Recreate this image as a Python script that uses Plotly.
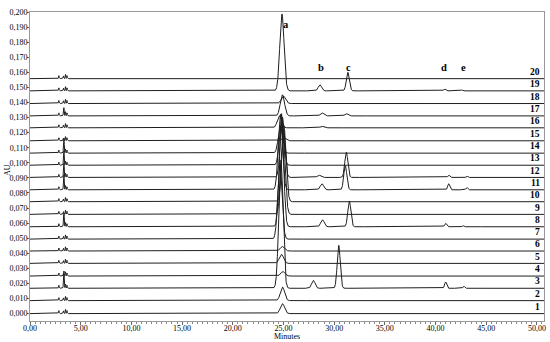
import numpy as np
import plotly.graph_objects as go

# ---------------- data ----------------
TRACE_LABELS = ["1", "2", "3", "4", "5", "6", "7", "8", "9", "10",
                "11", "12", "13", "14", "15", "16", "17", "18", "19", "20"]
# baseline (AU) of each stacked chromatogram
BASELINES = [0.0000, 0.0086, 0.0168, 0.0249, 0.0333, 0.0415, 0.0494, 0.0576, 0.0658, 0.0742,
             0.0821, 0.0903, 0.0984, 0.1064, 0.1146, 0.1232, 0.1311, 0.1393, 0.1477, 0.1558]

# peak a (main compound): retention time (min) and height above baseline (AU)
A_TIME = [24.90, 24.90, 24.75, 24.95, 24.80, 24.90, 24.65, 24.80, 24.95, 25.05,
          24.70, 24.90, 24.80, 24.70, 25.00, 24.60, 24.90, 25.00, 24.85, 24.90]
A_HEIGHT = [0.0066, 0.0090, 0.0850, 0.0030, 0.0060, 0.0030, 0.0500, 0.0750, 0.0550, 0.0500,
            0.0500, 0.0400, 0.0300, 0.0180, 0.0020, 0.0080, 0.0140, 0.0050, 0.0510, 0.0000]

# peak b
B_TIME = [28.6, 28.6, 27.95, 28.6, 28.6, 28.6, 28.6, 28.85, 28.6, 28.6,
          28.8, 28.5, 28.6, 28.6, 28.6, 28.8, 28.8, 28.6, 28.6, 28.6]
B_HEIGHT = [0.0, 0.0, 0.0052, 0.0, 0.0, 0.0, 0.0, 0.0046, 0.0, 0.0,
            0.0040, 0.0015, 0.0, 0.0, 0.0, 0.0010, 0.0020, 0.0, 0.0040, 0.0]

# peak c
C_TIME = [31.3, 31.3, 30.45, 31.3, 31.3, 31.3, 31.3, 31.50, 31.3, 31.3,
          31.10, 31.20, 31.3, 31.3, 31.3, 31.3, 31.20, 31.3, 31.35, 31.3]
C_HEIGHT = [0.0, 0.0, 0.0285, 0.0, 0.0, 0.0, 0.0, 0.0170, 0.0, 0.0,
            0.0160, 0.0167, 0.0, 0.0, 0.0, 0.0, 0.0015, 0.0, 0.0123, 0.0]

# peak d
D_TIME = [41.0, 41.0, 41.0, 41.0, 41.0, 41.0, 41.0, 41.0, 41.0, 41.0,
          41.3, 41.3, 41.0, 41.0, 41.0, 41.0, 41.0, 41.0, 40.9, 41.0]
D_HEIGHT = [0.0, 0.0, 0.0042, 0.0, 0.0, 0.0, 0.0, 0.0023, 0.0, 0.0,
            0.0040, 0.0015, 0.0, 0.0, 0.0, 0.0, 0.0, 0.0, 0.0012, 0.0]

# peak e
E_TIME = [42.8, 42.8, 42.8, 42.8, 42.8, 42.8, 42.8, 42.7, 42.8, 42.8,
          43.1, 43.1, 42.8, 42.8, 42.8, 42.8, 42.8, 42.8, 42.6, 42.8]
E_HEIGHT = [0.0, 0.0, 0.0014, 0.0, 0.0, 0.0, 0.0, 0.0008, 0.0, 0.0,
            0.0015, 0.0010, 0.0, 0.0, 0.0, 0.0, 0.0, 0.0, 0.0006, 0.0]

# solvent-front peaks present in every run (min, AU)
EARLY_TIME = [2.85, 3.30, 3.50, 3.65]
EARLY_HEIGHT = [0.0020, 0.0018, 0.0028, 0.0020]
# extra spike at 3.35 min in some runs
SPIKE_HEIGHT = [0.0, 0.0, 0.0110, 0.0, 0.0, 0.0, 0.0, 0.0085, 0.0, 0.0,
                0.0095, 0.0090, 0.0090, 0.0095, 0.0, 0.0, 0.0050, 0.0, 0.0, 0.0]

PEAK_LETTERS = ["a", "b", "c", "d", "e"]
LETTER_TIME = [25.25, 28.67, 31.40, 40.86, 42.80]
LETTER_AU = [0.1920, 0.1633, 0.1633, 0.1633, 0.1633]

X_TICKS = [0, 5, 10, 15, 20, 25, 30, 35, 40, 45, 50]
Y_TICKS = [round(0.01 * i, 2) for i in range(21)]

# ---------------- peak widths (gaussian sigma, min) ----------------
SIG_A, SIG_B, SIG_C, SIG_D, SIG_E, SIG_EARLY = 0.21, 0.17, 0.15, 0.10, 0.08, 0.03

t = np.arange(0, 50.7001, 0.01)


def g(center, height, sigma):
    return height * np.exp(-0.5 * ((t - center) / sigma) ** 2)


FONT = "Liberation Serif"
fig = go.Figure()
for i, lab in enumerate(TRACE_LABELS):
    y = np.full_like(t, BASELINES[i])
    y += g(A_TIME[i], A_HEIGHT[i], SIG_A)
    y += g(B_TIME[i], B_HEIGHT[i], SIG_B)
    y += g(C_TIME[i], C_HEIGHT[i], SIG_C)
    y += g(D_TIME[i], D_HEIGHT[i], SIG_D)
    y += g(E_TIME[i], E_HEIGHT[i], SIG_E)
    for et, eh in zip(EARLY_TIME, EARLY_HEIGHT):
        y += g(et, eh, SIG_EARLY)
    y += g(3.35, SPIKE_HEIGHT[i], SIG_EARLY)
    fig.add_trace(go.Scatter(x=t, y=y, mode="lines", name=lab,
                             line=dict(color="#1e1e1e", width=1),
                             hoverinfo="skip", showlegend=False))
    fig.add_annotation(x=50.46, y=BASELINES[i] + 0.0045, text="<b>%s</b>" % lab,
                       showarrow=False, xanchor="right", yanchor="middle",
                       font=dict(family=FONT, size=9.5, color="#000"))

for letter, lt, la in zip(PEAK_LETTERS, LETTER_TIME, LETTER_AU):
    fig.add_annotation(x=lt, y=la, text="<b>%s</b>" % letter, showarrow=False,
                       xanchor="center", yanchor="middle",
                       font=dict(family=FONT, size=10.5, color="#000"))

fig.add_annotation(x=0.5, y=-0.05, xref="paper", yref="paper", text="Minutes",
                   showarrow=False, xanchor="center", yanchor="middle",
                   font=dict(family=FONT, size=8, color="#000"))
fig.add_annotation(x=-0.045, y=0.488, xref="paper", yref="paper", text="AU",
                   showarrow=False, textangle=-90, xanchor="center", yanchor="middle",
                   font=dict(family=FONT, size=8, color="#000"))

fig.update_layout(
    width=550, height=342,
    margin=dict(l=30, r=6, t=12, b=21),
    paper_bgcolor="white", plot_bgcolor="white",
    separators=", ",
    font=dict(family=FONT, size=8, color="#000"),
)
fig.update_xaxes(range=[0, 50.7], tickmode="array", tickvals=X_TICKS, tickformat=".2f",
                 ticks="outside", ticklen=3, tickcolor="#666", automargin=False,
                 ticklabelstandoff=-4,
                 showgrid=False, zeroline=False,
                 showline=True, linecolor="#999", linewidth=1, mirror=True,
                 tickfont=dict(family=FONT, size=8, color="#000"),
                 minor=dict(tickmode="linear", tick0=0, dtick=0.5, ticks="outside",
                            ticklen=2, tickcolor="#888", showgrid=False))
fig.update_yaxes(range=[-0.0049, 0.2], tickmode="array", tickvals=Y_TICKS, tickformat=".3f",
                 ticks="outside", ticklen=2, tickcolor="#666", automargin=False,
                 ticklabelstandoff=-2,
                 showgrid=False, zeroline=False,
                 showline=True, linecolor="#999", linewidth=1, mirror=True,
                 tickfont=dict(family=FONT, size=8, color="#000"))

fig.write_html("out.html", config={"displayModeBar": False},
               post_script="document.body.style.margin='0';document.body.style.padding='0';")
